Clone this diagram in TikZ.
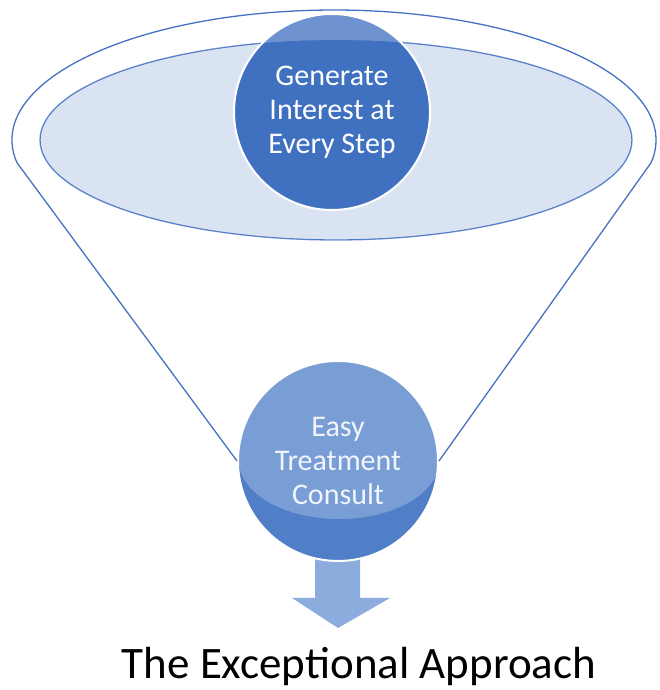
\documentclass[tikz,border=0pt]{standalone}
\usepackage{fontspec}
\setmainfont{Carlito}
\definecolor{rimblue}{RGB}{68,114,196}
\definecolor{topblue}{RGB}{64,112,192}
\definecolor{lowblue}{RGB}{80,127,200}
\definecolor{mouthfill}{RGB}{218,227,242}
\definecolor{pointerblue}{RGB}{141,172,222}
\definecolor{softwhite}{RGB}{236,241,250}

\begin{document}
\begin{tikzpicture}[x=1pt,y=1pt,
  rim/.style={draw=rimblue,line width=1.3pt},
  bubble/.style={circle,draw=white,line width=2pt,inner sep=0pt,
    align=center,font=\fontsize{30}{34}\selectfont},
  pointer/.style={fill=pointerblue}]
\useasboundingbox (0,0) rectangle (660,690);
\filldraw[rim,fill=mouthfill] (336,550) ellipse [x radius=296,y radius=100];
\fill[pointer] (315,135) -- (315,92) -- (292,92) -- (338,62) -- (390,92)
  -- (360,92) -- (360,135) -- cycle;
\node[bubble,fill=topblue,minimum size=196pt,text=white] (interest) at (332,578)
  {Generate\\Interest at\\Every Step};
\node[bubble,fill=lowblue,minimum size=200pt,text=softwhite] (consult) at (338,229)
  {Easy\\Treatment\\Consult};
\fill[white,fill opacity=.24,even odd rule]
  (consult.west) -- (16.9,527.4) arc[start angle=190,end angle=-10,x radius=322,y radius=130]
  -- (consult.east) arc[start angle=0,end angle=-180,x radius=100,y radius=58] -- cycle
  (336,550) ellipse [x radius=296,y radius=100];
\draw[rim] (consult.west) -- (16.9,527.4)
  arc[start angle=190,end angle=-10,x radius=322,y radius=130] -- (consult.east);
\node[font=\fontsize{45}{50}\selectfont,anchor=base] (approach) at (359,11)
  {The Exceptional Approach};
\end{tikzpicture}
\end{document}
